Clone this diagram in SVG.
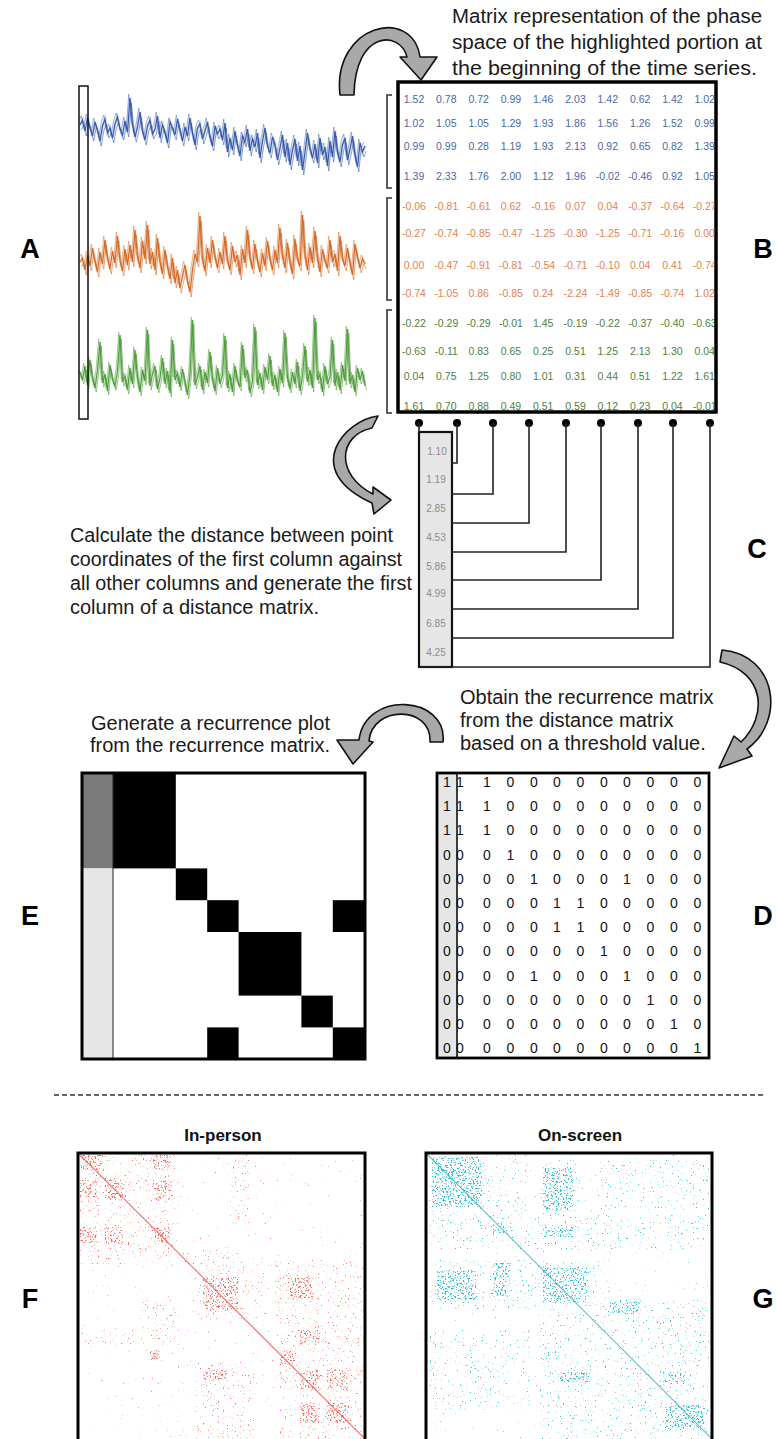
<svg xmlns="http://www.w3.org/2000/svg" xmlns:xlink="http://www.w3.org/1999/xlink" width="777" height="1439" viewBox="0 0 777 1439">
<style>
.t{font-family:"Liberation Sans",Arial,sans-serif;font-size:20px;fill:#1a1a1a}
.lab{font-family:"Liberation Sans",Arial,sans-serif;font-size:27px;font-weight:bold;fill:#000;text-anchor:middle}
.ttl{font-family:"Liberation Sans",Arial,sans-serif;font-size:17px;font-weight:bold;fill:#111;text-anchor:middle}
.num{font-family:"Liberation Sans",Arial,sans-serif;font-size:10.5px;text-anchor:middle}
.bl{fill:#4a68a8}.or{fill:#e3824f}.gr{fill:#4f7f3c}
.cv{font-family:"Liberation Sans",Arial,sans-serif;font-size:10px;fill:#8c8c8c;text-anchor:middle}
.dv{font-family:"Liberation Sans",Arial,sans-serif;font-size:14px;fill:#111;text-anchor:middle}
.arrow{fill:#a9a9a9;stroke:#111;stroke-width:1.6;stroke-linejoin:round}
.br{fill:none;stroke:#333;stroke-width:1.6}
.cn{fill:none;stroke:#222;stroke-width:1.6}
.blk{fill:#000}
</style>
<defs>
<filter id="f1" x="0" y="0" width="1" height="1" color-interpolation-filters="sRGB">
<feTurbulence type="fractalNoise" baseFrequency="0.6" numOctaves="2" seed="7"/>
<feColorMatrix type="matrix" values="0 0 0 0 0 0 0 0 0 0 0 0 0 0 0 10 0 0 0 -7.6" result="m"/>
<feComposite in="SourceGraphic" in2="m" operator="in"/>
</filter>
<filter id="f2" x="0" y="0" width="1" height="1" color-interpolation-filters="sRGB">
<feTurbulence type="fractalNoise" baseFrequency="0.6" numOctaves="2" seed="7"/>
<feColorMatrix type="matrix" values="0 0 0 0 0 0 0 0 0 0 0 0 0 0 0 10 0 0 0 -6.8" result="m"/>
<feComposite in="SourceGraphic" in2="m" operator="in"/>
</filter>
<filter id="f3" x="0" y="0" width="1" height="1" color-interpolation-filters="sRGB">
<feTurbulence type="fractalNoise" baseFrequency="0.6" numOctaves="2" seed="7"/>
<feColorMatrix type="matrix" values="0 0 0 0 0 0 0 0 0 0 0 0 0 0 0 10 0 0 0 -5.6" result="m"/>
<feComposite in="SourceGraphic" in2="m" operator="in"/>
</filter>
<polyline id="sB" fill="none" points="80,125 82.5,120 85,131 87.5,118 90,127 92.5,136 95,122 97.5,130 100,141 102.5,126 105,119 107.5,133 110,128 112.5,138 115,124 117.5,117 120,129 122.5,135 125,121 127.5,132 130,98 132.5,124 135,137 137.5,127 140,112 142.5,131 145,140 147.5,126 150,120 152.5,134 155,129 157.5,116 160,138 162.5,125 165,132 167.5,143 170,122 172.5,128 175,135 177.5,119 180,130 182.5,141 185,127 187.5,136 190,118 192.5,133 195,145 197.5,128 200,124 202.5,139 205,131 207.5,122 210,137 212.5,146 215,126 217.5,134 220,129 222.5,140 225,123 227.5,152 230,138 232.5,150 235,131 237.5,145 240,156 242.5,136 245,142 247.5,129 250,151 252.5,139 255,147 257.5,133 260,158 262.5,141 265,128 267.5,146 270,153 272.5,137 275,144 277.5,160 280,148 282.5,135 285,157 287.5,143 290,165 292.5,150 295,139 297.5,161 300,146 302.5,170 305,152 307.5,133 310,149 312.5,158 315,144 317.5,163 320,138 322.5,155 325,147 327.5,166 330,141 332.5,157 335,131 337.5,152 340,162 342.5,145 345,138 347.5,160 350,149 352.5,136 355,155 357.5,167 360,143 362.5,152 365,146"/>
<polyline id="sO" fill="none" points="80,262 82.5,258 85,270 87.5,255 90,266 92.5,248 95,261 97.5,272 100,252 102.5,264 105,240 107.5,258 110,269 112.5,251 115,263 117.5,236 120,260 122.5,271 125,249 127.5,265 130,245 132.5,262 135,230 137.5,256 140,268 142.5,241 145,259 147.5,225 150,264 152.5,252 155,270 157.5,238 160,261 162.5,274 165,250 167.5,266 170,279 172.5,258 175,283 177.5,270 180,288 182.5,276 185,265 187.5,281 190,292 192.5,270 195,254 197.5,262 200,216 202.5,259 205,271 207.5,248 210,263 212.5,240 215,257 217.5,268 220,252 222.5,264 225,236 227.5,261 230,270 232.5,246 235,262 237.5,255 240,275 242.5,249 245,263 247.5,230 250,258 252.5,269 255,244 257.5,261 260,272 262.5,253 265,266 267.5,241 270,259 272.5,270 275,250 277.5,263 280,228 282.5,256 285,268 287.5,243 290,262 292.5,274 295,239 297.5,260 300,266 302.5,215 305,255 307.5,270 310,247 312.5,263 315,231 317.5,258 320,272 322.5,249 325,261 327.5,268 330,240 332.5,262 335,254 337.5,271 340,236 342.5,259 345,266 347.5,248 350,263 352.5,275 355,244 357.5,257 360,268 362.5,259 365,264"/>
<polyline id="sG" fill="none" points="80,372 82.5,380 85,366 87.5,385 90,360 92.5,378 95,388 97.5,370 100,342 102.5,383 105,374 107.5,391 110,365 112.5,379 115,386 117.5,371 120,335 122.5,382 125,376 127.5,390 130,368 132.5,384 135,350 137.5,377 140,392 142.5,370 145,381 147.5,330 150,386 152.5,374 155,366 157.5,389 160,378 162.5,358 165,384 167.5,371 170,393 172.5,340 175,380 177.5,373 180,387 182.5,369 185,382 187.5,395 190,374 192.5,320 195,385 197.5,377 200,366 202.5,390 205,372 207.5,383 210,352 212.5,379 215,391 217.5,368 220,384 222.5,375 225,336 227.5,388 230,374 232.5,392 235,366 237.5,381 240,387 242.5,345 245,378 247.5,370 250,393 252.5,381 255,327 257.5,385 260,373 262.5,390 265,367 267.5,380 270,356 272.5,386 275,375 277.5,392 280,369 282.5,383 285,333 287.5,378 290,389 292.5,372 295,384 297.5,362 300,391 302.5,376 305,346 307.5,382 310,370 312.5,388 315,318 317.5,380 320,374 322.5,392 325,366 327.5,384 330,377 332.5,340 335,386 337.5,372 340,390 342.5,365 345,381 347.5,329 350,384 352.5,375 355,392 357.5,368 360,380 362.5,371 365,386"/>
</defs>

<g id="label-letters">
<text class="lab" x="30" y="258">A</text>
<text class="lab" x="763" y="258">B</text>
<text class="lab" x="757" y="558">C</text>
<text class="lab" x="763" y="925">D</text>
<text class="lab" x="30" y="925">E</text>
<text class="lab" x="30" y="1308">F</text>
<text class="lab" x="763" y="1308">G</text>
</g>

<g id="node-A">
<g stroke="#2f54a8">
<use xlink:href="#sB" stroke-width="3" opacity="0.2"/>
<use xlink:href="#sB" transform="translate(1.25,5)" stroke-width="1" opacity="0.55"/>
<use xlink:href="#sB" transform="translate(-1.25,-4)" stroke-width="1" opacity="0.45"/>
<use xlink:href="#sB" stroke-width="1.2" opacity="0.95"/>
</g>
<g stroke="#d4651f">
<use xlink:href="#sO" stroke-width="3" opacity="0.2"/>
<use xlink:href="#sO" transform="translate(1.25,5)" stroke-width="1" opacity="0.55"/>
<use xlink:href="#sO" transform="translate(-1.25,-4)" stroke-width="1" opacity="0.45"/>
<use xlink:href="#sO" stroke-width="1.2" opacity="0.95"/>
</g>
<g stroke="#4a9a35">
<use xlink:href="#sG" stroke-width="3" opacity="0.2"/>
<use xlink:href="#sG" transform="translate(1.25,4)" stroke-width="1" opacity="0.55"/>
<use xlink:href="#sG" transform="translate(-1.25,-3)" stroke-width="1" opacity="0.45"/>
<use xlink:href="#sG" stroke-width="1.2" opacity="0.95"/>
</g>
<rect x="79" y="86" width="9" height="333" fill="none" stroke="#111" stroke-width="1.5"/>
</g>

<g id="text-B">
<text class="t" x="452" y="23" textLength="310" lengthAdjust="spacingAndGlyphs">Matrix representation of the phase</text>
<text class="t" x="452" y="49" textLength="310" lengthAdjust="spacingAndGlyphs">space of the highlighted portion at</text>
<text class="t" x="452" y="75" textLength="305" lengthAdjust="spacingAndGlyphs">the beginning of the time series.</text>
</g>

<g id="node-B">
<rect x="398" y="82" width="318" height="330" fill="#fff" stroke="#000" stroke-width="3"/>
<path class="br" d="M392 95 H387 V188 H392"/>
<path class="br" d="M392 198 H387 V300 H392"/>
<path class="br" d="M392 310 H387 V413 H392"/>
<text class="num bl" y="103"><tspan x="414">1.52</tspan><tspan x="446.3">0.78</tspan><tspan x="478.6">0.72</tspan><tspan x="510.9">0.99</tspan><tspan x="543.2">1.46</tspan><tspan x="575.5">2.03</tspan><tspan x="607.8">1.42</tspan><tspan x="640.1">0.62</tspan><tspan x="672.4">1.42</tspan><tspan x="704.7">1.02</tspan></text>
<text class="num bl" y="127"><tspan x="414">1.02</tspan><tspan x="446.3">1.05</tspan><tspan x="478.6">1.05</tspan><tspan x="510.9">1.29</tspan><tspan x="543.2">1.93</tspan><tspan x="575.5">1.86</tspan><tspan x="607.8">1.56</tspan><tspan x="640.1">1.26</tspan><tspan x="672.4">1.52</tspan><tspan x="704.7">0.99</tspan></text>
<text class="num bl" y="150"><tspan x="414">0.99</tspan><tspan x="446.3">0.99</tspan><tspan x="478.6">0.28</tspan><tspan x="510.9">1.19</tspan><tspan x="543.2">1.93</tspan><tspan x="575.5">2.13</tspan><tspan x="607.8">0.92</tspan><tspan x="640.1">0.65</tspan><tspan x="672.4">0.82</tspan><tspan x="704.7">1.39</tspan></text>
<text class="num bl" y="180"><tspan x="414">1.39</tspan><tspan x="446.3">2.33</tspan><tspan x="478.6">1.76</tspan><tspan x="510.9">2.00</tspan><tspan x="543.2">1.12</tspan><tspan x="575.5">1.96</tspan><tspan x="607.8">-0.02</tspan><tspan x="640.1">-0.46</tspan><tspan x="672.4">0.92</tspan><tspan x="704.7">1.05</tspan></text>
<text class="num or" y="210"><tspan x="414">-0.06</tspan><tspan x="446.3">-0.81</tspan><tspan x="478.6">-0.61</tspan><tspan x="510.9">0.62</tspan><tspan x="543.2">-0.16</tspan><tspan x="575.5">0.07</tspan><tspan x="607.8">0.04</tspan><tspan x="640.1">-0.37</tspan><tspan x="672.4">-0.64</tspan><tspan x="704.7">-0.27</tspan></text>
<text class="num or" y="237"><tspan x="414">-0.27</tspan><tspan x="446.3">-0.74</tspan><tspan x="478.6">-0.85</tspan><tspan x="510.9">-0.47</tspan><tspan x="543.2">-1.25</tspan><tspan x="575.5">-0.30</tspan><tspan x="607.8">-1.25</tspan><tspan x="640.1">-0.71</tspan><tspan x="672.4">-0.16</tspan><tspan x="704.7">0.00</tspan></text>
<text class="num or" y="269"><tspan x="414">0.00</tspan><tspan x="446.3">-0.47</tspan><tspan x="478.6">-0.91</tspan><tspan x="510.9">-0.81</tspan><tspan x="543.2">-0.54</tspan><tspan x="575.5">-0.71</tspan><tspan x="607.8">-0.10</tspan><tspan x="640.1">0.04</tspan><tspan x="672.4">0.41</tspan><tspan x="704.7">-0.74</tspan></text>
<text class="num or" y="297"><tspan x="414">-0.74</tspan><tspan x="446.3">-1.05</tspan><tspan x="478.6">0.86</tspan><tspan x="510.9">-0.85</tspan><tspan x="543.2">0.24</tspan><tspan x="575.5">-2.24</tspan><tspan x="607.8">-1.49</tspan><tspan x="640.1">-0.85</tspan><tspan x="672.4">-0.74</tspan><tspan x="704.7">1.02</tspan></text>
<text class="num gr" y="327"><tspan x="414">-0.22</tspan><tspan x="446.3">-0.29</tspan><tspan x="478.6">-0.29</tspan><tspan x="510.9">-0.01</tspan><tspan x="543.2">1.45</tspan><tspan x="575.5">-0.19</tspan><tspan x="607.8">-0.22</tspan><tspan x="640.1">-0.37</tspan><tspan x="672.4">-0.40</tspan><tspan x="704.7">-0.63</tspan></text>
<text class="num gr" y="355"><tspan x="414">-0.63</tspan><tspan x="446.3">-0.11</tspan><tspan x="478.6">0.83</tspan><tspan x="510.9">0.65</tspan><tspan x="543.2">0.25</tspan><tspan x="575.5">0.51</tspan><tspan x="607.8">1.25</tspan><tspan x="640.1">2.13</tspan><tspan x="672.4">1.30</tspan><tspan x="704.7">0.04</tspan></text>
<text class="num gr" y="380"><tspan x="414">0.04</tspan><tspan x="446.3">0.75</tspan><tspan x="478.6">1.25</tspan><tspan x="510.9">0.80</tspan><tspan x="543.2">1.01</tspan><tspan x="575.5">0.31</tspan><tspan x="607.8">0.44</tspan><tspan x="640.1">0.51</tspan><tspan x="672.4">1.22</tspan><tspan x="704.7">1.61</tspan></text>
<text class="num gr" y="410"><tspan x="414">1.61</tspan><tspan x="446.3">0.70</tspan><tspan x="478.6">0.88</tspan><tspan x="510.9">0.49</tspan><tspan x="543.2">0.51</tspan><tspan x="575.5">0.59</tspan><tspan x="607.8">0.12</tspan><tspan x="640.1">0.23</tspan><tspan x="672.4">0.04</tspan><tspan x="704.7">-0.01</tspan></text>
<rect x="398" y="82" width="318" height="330" fill="none" stroke="#000" stroke-width="3"/>
</g>

<g id="text-C">
<text class="t" x="70" y="542" textLength="323" lengthAdjust="spacingAndGlyphs">Calculate the distance between point</text>
<text class="t" x="70" y="566" textLength="332" lengthAdjust="spacingAndGlyphs">coordinates of the first column against</text>
<text class="t" x="70" y="590" textLength="342" lengthAdjust="spacingAndGlyphs">all other columns and generate the first</text>
<text class="t" x="70" y="614">column of a distance matrix.</text>
</g>

<g id="node-C">
<rect x="419" y="432" width="33" height="235" fill="#e6e6e6"/>
<text class="cv" x="437" y="455">1.10</text>
<text class="cv" x="436" y="483">1.19</text>
<text class="cv" x="436" y="512">2.85</text>
<text class="cv" x="436" y="541">4.53</text>
<text class="cv" x="436" y="570">5.86</text>
<text class="cv" x="436" y="597">4.99</text>
<text class="cv" x="436" y="627">6.85</text>
<text class="cv" x="436" y="656">4.25</text>
<rect x="419" y="432" width="33" height="235" fill="none" stroke="#111" stroke-width="2.2"/>
</g>

<g id="connectors">
<g fill="#000">
<circle cx="419" cy="423" r="4"/><circle cx="457" cy="423" r="4"/><circle cx="493" cy="423" r="4"/>
<circle cx="529" cy="423" r="4"/><circle cx="566" cy="423" r="4"/><circle cx="601" cy="423" r="4"/>
<circle cx="638" cy="423" r="4"/><circle cx="673" cy="423" r="4"/><circle cx="710" cy="423" r="4"/>
</g>
<path class="cn" d="M419 423 V432"/>
<path class="cn" d="M457 423 V463 H452"/>
<path class="cn" d="M493 423 V494 H452"/>
<path class="cn" d="M529 423 V523 H452"/>
<path class="cn" d="M566 423 V552 H452"/>
<path class="cn" d="M601 423 V580 H452"/>
<path class="cn" d="M638 423 V609 H452"/>
<path class="cn" d="M673 423 V638 H452"/>
<path class="cn" d="M710 423 V667 H419"/>
<path id="arrow-AB" class="arrow" d="M340 95 C332 25 412 5 420 57 L437 57 L421 80 L400 57 L407 57 C400 30 355 30 354 95 Z"/>
<path id="arrow-BC" class="arrow" d="M378 416 C345 420 300 470 372 503 L374 514 L391 500 L373 487 L373 494 C335 475 338 435 372 428 Z"/>
<path id="arrow-CD" class="arrow" d="M722 650 C778 655 785 722 747 749 L752 756 L719 768 L734 736 L741 742 C768 716 765 672 720 662 Z"/>
<path id="arrow-DE" class="arrow" d="M443 742 C448 695 365 690 359 740 L337 740 L353 764 L373 742 L369 741 C372 705 432 705 430 742 Z"/>
</g>

<g id="text-D">
<text class="t" x="460" y="704">Obtain the recurrence matrix</text>
<text class="t" x="460" y="727">from the distance matrix</text>
<text class="t" x="460" y="750">based on a threshold value.</text>
</g>

<g id="node-D">
<rect x="437" y="773" width="272" height="285" fill="#fff"/>
<rect x="437" y="773" width="20" height="285" fill="#e6e6e6"/>
<g class="dv">
<text y="787"><tspan x="447">1</tspan><tspan x="460">1</tspan><tspan x="487">1</tspan><tspan x="510.5">0</tspan><tspan x="534">0</tspan><tspan x="557">0</tspan><tspan x="580.5">0</tspan><tspan x="604">0</tspan><tspan x="627">0</tspan><tspan x="650.5">0</tspan><tspan x="674">0</tspan><tspan x="697.5">0</tspan></text>
<text y="811"><tspan x="447">1</tspan><tspan x="460">1</tspan><tspan x="487">1</tspan><tspan x="510.5">0</tspan><tspan x="534">0</tspan><tspan x="557">0</tspan><tspan x="580.5">0</tspan><tspan x="604">0</tspan><tspan x="627">0</tspan><tspan x="650.5">0</tspan><tspan x="674">0</tspan><tspan x="697.5">0</tspan></text>
<text y="835"><tspan x="447">1</tspan><tspan x="460">1</tspan><tspan x="487">1</tspan><tspan x="510.5">0</tspan><tspan x="534">0</tspan><tspan x="557">0</tspan><tspan x="580.5">0</tspan><tspan x="604">0</tspan><tspan x="627">0</tspan><tspan x="650.5">0</tspan><tspan x="674">0</tspan><tspan x="697.5">0</tspan></text>
<text y="860"><tspan x="447">0</tspan><tspan x="460">0</tspan><tspan x="487">0</tspan><tspan x="510.5">1</tspan><tspan x="534">0</tspan><tspan x="557">0</tspan><tspan x="580.5">0</tspan><tspan x="604">0</tspan><tspan x="627">0</tspan><tspan x="650.5">0</tspan><tspan x="674">0</tspan><tspan x="697.5">0</tspan></text>
<text y="884"><tspan x="447">0</tspan><tspan x="460">0</tspan><tspan x="487">0</tspan><tspan x="510.5">0</tspan><tspan x="534">1</tspan><tspan x="557">0</tspan><tspan x="580.5">0</tspan><tspan x="604">0</tspan><tspan x="627">1</tspan><tspan x="650.5">0</tspan><tspan x="674">0</tspan><tspan x="697.5">0</tspan></text>
<text y="908"><tspan x="447">0</tspan><tspan x="460">0</tspan><tspan x="487">0</tspan><tspan x="510.5">0</tspan><tspan x="534">0</tspan><tspan x="557">1</tspan><tspan x="580.5">1</tspan><tspan x="604">0</tspan><tspan x="627">0</tspan><tspan x="650.5">0</tspan><tspan x="674">0</tspan><tspan x="697.5">0</tspan></text>
<text y="932"><tspan x="447">0</tspan><tspan x="460">0</tspan><tspan x="487">0</tspan><tspan x="510.5">0</tspan><tspan x="534">0</tspan><tspan x="557">1</tspan><tspan x="580.5">1</tspan><tspan x="604">0</tspan><tspan x="627">0</tspan><tspan x="650.5">0</tspan><tspan x="674">0</tspan><tspan x="697.5">0</tspan></text>
<text y="956"><tspan x="447">0</tspan><tspan x="460">0</tspan><tspan x="487">0</tspan><tspan x="510.5">0</tspan><tspan x="534">0</tspan><tspan x="557">0</tspan><tspan x="580.5">0</tspan><tspan x="604">1</tspan><tspan x="627">0</tspan><tspan x="650.5">0</tspan><tspan x="674">0</tspan><tspan x="697.5">0</tspan></text>
<text y="981"><tspan x="447">0</tspan><tspan x="460">0</tspan><tspan x="487">0</tspan><tspan x="510.5">0</tspan><tspan x="534">1</tspan><tspan x="557">0</tspan><tspan x="580.5">0</tspan><tspan x="604">0</tspan><tspan x="627">1</tspan><tspan x="650.5">0</tspan><tspan x="674">0</tspan><tspan x="697.5">0</tspan></text>
<text y="1005"><tspan x="447">0</tspan><tspan x="460">0</tspan><tspan x="487">0</tspan><tspan x="510.5">0</tspan><tspan x="534">0</tspan><tspan x="557">0</tspan><tspan x="580.5">0</tspan><tspan x="604">0</tspan><tspan x="627">0</tspan><tspan x="650.5">1</tspan><tspan x="674">0</tspan><tspan x="697.5">0</tspan></text>
<text y="1029"><tspan x="447">0</tspan><tspan x="460">0</tspan><tspan x="487">0</tspan><tspan x="510.5">0</tspan><tspan x="534">0</tspan><tspan x="557">0</tspan><tspan x="580.5">0</tspan><tspan x="604">0</tspan><tspan x="627">0</tspan><tspan x="650.5">0</tspan><tspan x="674">1</tspan><tspan x="697.5">0</tspan></text>
<text y="1053"><tspan x="447">0</tspan><tspan x="460">0</tspan><tspan x="487">0</tspan><tspan x="510.5">0</tspan><tspan x="534">0</tspan><tspan x="557">0</tspan><tspan x="580.5">0</tspan><tspan x="604">0</tspan><tspan x="627">0</tspan><tspan x="650.5">0</tspan><tspan x="674">0</tspan><tspan x="697.5">1</tspan></text>
</g>
<line x1="457" y1="773" x2="457" y2="1058" stroke="#111" stroke-width="1.6"/>
<rect x="437" y="773" width="272" height="285" fill="none" stroke="#000" stroke-width="2.8"/>
</g>

<g id="text-E">
<text class="t" x="330" y="730" text-anchor="end">Generate a recurrence plot</text>
<text class="t" x="330" y="752" text-anchor="end">from the recurrence matrix.</text>
</g>

<g id="node-E">
<rect x="82" y="773" width="283" height="286" fill="#fff"/>
<rect x="82" y="773" width="31" height="95.4" fill="#7a7a7a"/>
<rect x="82" y="868.4" width="31" height="190.6" fill="#e6e6e6"/>
<rect class="blk" x="113" y="773" width="62.8" height="95.4"/>
<rect class="blk" x="175.8" y="868.4" width="31.4" height="31.8"/>
<rect class="blk" x="207.2" y="900.2" width="31.4" height="31.8"/>
<rect class="blk" x="332.8" y="900.2" width="32.2" height="31.8"/>
<rect class="blk" x="238.6" y="932" width="62.8" height="63.6"/>
<rect class="blk" x="301.4" y="995.6" width="31.4" height="31.8"/>
<rect class="blk" x="207.2" y="1027.4" width="31.4" height="31.6"/>
<rect class="blk" x="332.8" y="1027.4" width="32.2" height="31.6"/>
<line x1="113" y1="773" x2="113" y2="1059" stroke="#222" stroke-width="1"/>
<rect x="82" y="773" width="283" height="286" fill="none" stroke="#000" stroke-width="3"/>
</g>

<line id="divider" x1="54" y1="1095" x2="766" y2="1095" stroke="#333" stroke-width="1.6" stroke-dasharray="5 3"/>

<g id="node-F">
<text class="ttl" x="223" y="1141">In-person</text>
<rect x="78" y="1153" width="287" height="290" fill="#fff"/>
<g fill="#f27369">
<rect filter="url(#f1)" x="80" y="1155" width="284" height="284"/>
<g filter="url(#f2)">
<rect x="80" y="1155" width="95" height="95"/>
<rect x="80" y="1250" width="160" height="15"/>
<rect x="195" y="1260" width="70" height="60"/>
<rect x="275" y="1260" width="90" height="60"/>
<rect x="280" y="1320" width="85" height="119"/>
<rect x="195" y="1360" width="60" height="79"/>
<rect x="80" y="1330" width="100" height="15"/>
<rect x="140" y="1300" width="40" height="30"/>
<rect x="230" y="1155" width="20" height="70"/>
</g>
<g filter="url(#f3)">
<rect x="80" y="1155" width="23" height="15"/><rect x="105" y="1178" width="18" height="22"/>
<rect x="80" y="1180" width="17" height="17"/><rect x="153" y="1155" width="17" height="15"/>
<rect x="153" y="1180" width="17" height="20"/><rect x="80" y="1227" width="17" height="16"/>
<rect x="105" y="1227" width="18" height="16"/><rect x="153" y="1227" width="17" height="16"/>
<rect x="203" y="1277" width="35" height="33"/><rect x="290" y="1277" width="23" height="23"/>
<rect x="300" y="1330" width="20" height="15"/><rect x="280" y="1350" width="15" height="15"/>
<rect x="300" y="1370" width="20" height="20"/><rect x="327" y="1370" width="20" height="20"/>
<rect x="300" y="1403" width="20" height="20"/><rect x="327" y="1403" width="22" height="20"/>
<rect x="203" y="1370" width="24" height="10"/><rect x="150" y="1350" width="10" height="10"/>
</g>
</g>
<line x1="80" y1="1155" x2="365" y2="1439" stroke="#e84a40" stroke-width="1.1" opacity="0.75"/>
<rect x="78" y="1153" width="287" height="290" fill="none" stroke="#000" stroke-width="3"/>
</g>

<g id="node-G">
<text class="ttl" x="580" y="1141">On-screen</text>
<rect x="426" y="1153" width="286" height="290" fill="#fff"/>
<g fill="#33bccb">
<rect filter="url(#f1)" x="428" y="1155" width="282" height="284"/>
<g filter="url(#f2)">
<rect x="428" y="1155" width="100" height="60"/>
<rect x="540" y="1160" width="40" height="60"/>
<rect x="430" y="1215" width="280" height="35"/>
<rect x="430" y="1260" width="180" height="50"/>
<rect x="540" y="1300" width="170" height="139"/>
<rect x="430" y="1330" width="100" height="80"/>
<rect x="600" y="1160" width="110" height="50"/>
</g>
<g filter="url(#f3)">
<rect x="432" y="1157" width="50" height="50"/><rect x="543" y="1167" width="30" height="43"/>
<rect x="493" y="1223" width="14" height="10"/><rect x="543" y="1227" width="30" height="10"/>
<rect x="437" y="1270" width="40" height="30"/><rect x="493" y="1263" width="17" height="34"/>
<rect x="543" y="1267" width="44" height="36"/><rect x="610" y="1302" width="30" height="12"/>
<rect x="560" y="1372" width="30" height="10"/><rect x="660" y="1372" width="25" height="10"/>
<rect x="665" y="1405" width="40" height="25"/>
</g>
</g>
<line x1="428" y1="1155" x2="712" y2="1439" stroke="#1cb3c4" stroke-width="1.1" opacity="0.75"/>
<rect x="426" y="1153" width="286" height="290" fill="none" stroke="#000" stroke-width="3"/>
</g>
</svg>
